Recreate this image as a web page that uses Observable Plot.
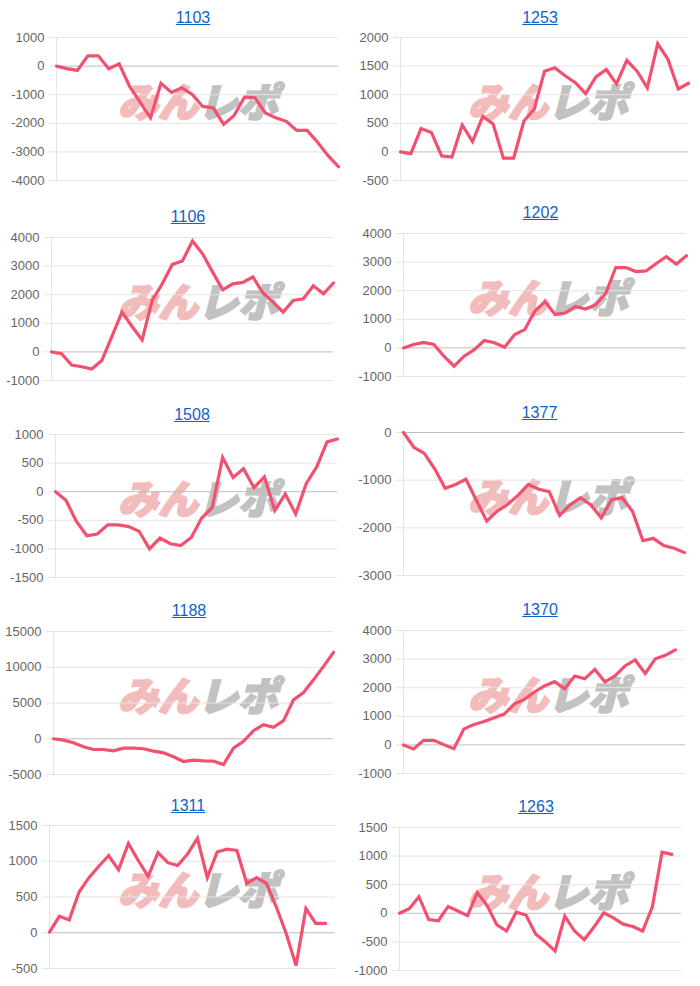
<!DOCTYPE html>
<html><head><meta charset="utf-8">
<script src="https://cdn.jsdelivr.net/npm/d3@7"></script>
<script src="https://cdn.jsdelivr.net/npm/@observablehq/plot@0.6"></script>
<style>
body{margin:0;background:#fff;font-family:"Liberation Sans",Arial,sans-serif;}
#root{position:relative;width:700px;height:986px;overflow:hidden;}
.cell{position:absolute;width:350px;}
.title{position:absolute;font-size:16px;line-height:20px;color:#0d63c9;text-decoration:underline;text-align:center;width:120px;font-family:"Liberation Sans",Arial,sans-serif;}
.wm{position:absolute;font-family:"Noto Sans CJK JP",sans-serif;font-weight:900;font-style:italic;font-size:40px;line-height:40px;white-space:nowrap;letter-spacing:0px;}
.wm .a{color:#f3bcbc;-webkit-text-stroke:2px #f3bcbc;}
.wm .b{color:#c2c2c2;-webkit-text-stroke:2px #c2c2c2;}
.cell svg{position:absolute;left:0;top:0;}
</style></head><body><div id="root"></div><script>
// ---- data ----
const titles = ["1103","1253","1106","1202","1508","1377","1188","1370","1311","1263"];

const s1103 = [0,-90,-150,360,360,-90,80,-710,-1260,-1810,-600,-920,-760,-990,-1410,-1460,-2040,-1730,-1090,-1110,-1640,-1810,-1930,-2250,-2250,-2660,-3130,-3520];
const s1253 = [0,-30,410,340,-70,-90,470,180,620,490,-110,-110,540,750,1410,1470,1330,1210,1020,1310,1440,1190,1600,1410,1120,1890,1620,1100,1200];
const s1106 = [0,-60,-460,-520,-600,-300,540,1390,890,420,1800,2380,3060,3180,3880,3430,2790,2170,2380,2430,2620,2060,1740,1390,1800,1860,2310,2030,2410];
const s1202 = [0,120,190,120,-290,-640,-290,-60,260,180,20,470,640,1290,1620,1170,1220,1450,1360,1500,1900,2810,2810,2670,2690,2950,3190,2930,3220];
const s1508 = [0,-150,-520,-770,-740,-580,-580,-610,-690,-1000,-810,-910,-940,-800,-460,-280,600,250,400,70,260,-330,-40,-390,140,430,870,920];
const s1377 = [0,-310,-440,-760,-1170,-1090,-980,-1420,-1860,-1650,-1510,-1320,-1090,-1190,-1240,-1740,-1520,-1370,-1520,-1790,-1410,-1370,-1650,-2270,-2220,-2370,-2430,-2520];
const s1188 = [0,-190,-560,-1120,-1500,-1500,-1690,-1310,-1310,-1400,-1730,-1970,-2530,-3190,-3000,-3090,-3140,-3610,-1310,-370,1120,1970,1590,2530,5430,6460,8240,10120,12090];
const s1370 = [0,-140,160,160,10,-130,560,710,820,950,1080,1430,1590,1850,2060,2210,1960,2410,2310,2640,2200,2410,2760,2970,2500,3010,3130,3320,null];
const s1311 = [10,230,180,570,770,930,1080,880,1250,1010,790,1120,980,940,1100,1320,770,1130,1170,1150,690,770,690,360,-10,-460,340,130,130,null];
const s1263 = [0,80,290,-110,-130,120,40,-40,360,140,-200,-310,20,-30,-360,-500,-660,-50,-310,-460,-240,10,-80,-190,-230,-310,110,1070,1030,null];

const t1103 = [-4000,-3000,-2000,-1000,0,1000];
const t1253 = [-500,0,500,1000,1500,2000];
const t1106 = [-1000,0,1000,2000,3000,4000];
const t1202 = [-1000,0,1000,2000,3000,4000];
const t1508 = [-1500,-1000,-500,0,500,1000];
const t1377 = [-3000,-2000,-1000,0];
const t1188 = [-5000,0,5000,10000,15000];
const t1370 = [-1000,0,1000,2000,3000,4000];
const t1311 = [-500,0,500,1000,1500];
const t1263 = [-1000,-500,0,500,1000,1500];

const series = [s1103,s1253,s1106,s1202,s1508,s1377,s1188,s1370,s1311,s1263];
const tickSets = [t1103,t1253,t1106,t1202,t1508,t1377,t1188,t1370,t1311,t1263];

// ---- layout (positions only) ----
const plotTop   = [37.3,37.3,237.3,232.7,434.3,432,631,629.7,825.3,827.3];
const plotLeft  = [56,50,51,53,55,53,53,53,49,49];
const plotRight = [338,338,333,336,337,334,333,335,335,331];
const titleY    = [18,18,217,213,415,413,611,610,806,807];
const PH = 143, MT = 8, MB = 8;

const root = document.getElementById("root");
series.forEach((s, k) => {
  const col = k % 2;
  const ticks = tickSets[k];
  const cell = document.createElement("div");
  cell.className = "cell";
  cell.style.left = (col * 350) + "px";
  cell.style.top = (plotTop[k] - MT) + "px";
  cell.style.height = (PH + MT + MB) + "px";
  root.appendChild(cell);

  // watermark (behind chart)
  const wm = document.createElement("div");
  wm.className = "wm";
  wm.style.left = "118px";
  wm.style.top = (MT + 43) + "px";
  wm.innerHTML = '<span class="a">みん</span><span class="b">レポ</span>';
  cell.appendChild(wm);

  const data = s.map((v, i) => ({i, v}));
  const chart = Plot.plot({
    width: 350,
    height: PH + MT + MB,
    marginTop: MT,
    marginBottom: MB,
    marginLeft: plotLeft[k],
    marginRight: 350 - plotRight[k],
    style: {background: "transparent", fontFamily: "'Liberation Sans', Arial, sans-serif", overflow: "visible"},
    x: {domain: [0, s.length - 1], axis: null},
    y: {domain: [d3.min(ticks), d3.max(ticks)], axis: null},
    marks: [
      Plot.ruleY(ticks.filter(t => t !== 0), {stroke: "#e4e4e4", strokeWidth: 1}),
      Plot.ruleX([0], {stroke: "#e4e4e4", strokeWidth: 1}),
      Plot.axisY({ticks, label: null, tickSize: 7, tickPadding: 5, stroke: "#e4e4e4", fill: "#666", fontSize: 13, tickFormat: d => String(d)}),
      Plot.ruleY([0], {stroke: "#bdbdbd", strokeWidth: 1}),
      Plot.line(data, {x: "i", y: "v", stroke: "#f2506f", strokeWidth: 3.2, strokeLinejoin: "miter", strokeMiterlimit: 4})
    ]
  });
  cell.appendChild(chart);

  const t = document.createElement("div");
  t.className = "title";
  t.textContent = titles[k];
  const cx = col * 350 + (plotLeft[k] + plotRight[k]) / 2 - 4;
  t.style.left = (cx - 60) + "px";
  t.style.top = (titleY[k] - 10) + "px";
  root.appendChild(t);
});
</script></body></html>
